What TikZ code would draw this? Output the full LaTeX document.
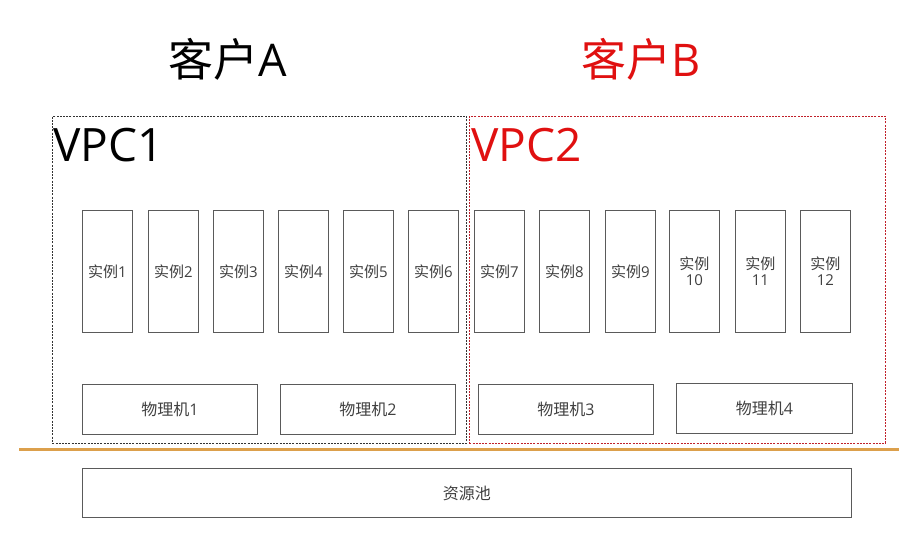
\documentclass[tikz,border=0pt]{standalone}
\usepackage{fontspec}
\setmainfont{Open Sans}
\newfontfamily\cjk{Noto Sans CJK SC}
\definecolor{boxgray}{HTML}{5A5A5A}
\definecolor{txtgray}{HTML}{404040}
\definecolor{vpcred}{HTML}{C0202A}
\definecolor{linorange}{HTML}{DCA04C}
\definecolor{titlered}{HTML}{E01010}
\newcommand{\inst}[1]{{\cjk 实例}#1}
\newcommand{\phys}[1]{{\cjk 物理机}#1}
\tikzset{
  inst/.style={draw=boxgray, line width=0.9pt, fill=white, text=txtgray, font=\fontsize{15}{16}\selectfont, inner sep=0pt, align=center},
  machine/.style={inst, font=\fontsize{16}{18}\selectfont},
  vpcbox/.style={draw, line width=0.8pt, dash pattern=on 2pt off 1.2pt},
  title/.style={font=\fontsize{45}{50}\selectfont, inner sep=0pt},
  vpclabel/.style={font=\fontsize{46}{50}\selectfont, inner sep=0pt, anchor=west}
}
\begin{document}
\begin{tikzpicture}[x=1pt,y=-1pt]
\useasboundingbox (0,0) rectangle (899,535);
% titles
\node[title] (ta) at (228,59) {{\cjk 客户}A};
\node[title, text=titlered] (tb) at (641,59) {{\cjk 客户}B};
% VPC boxes
\node[vpcbox, draw=black!80, minimum width=414pt, minimum height=327pt, anchor=north west, inner sep=0pt] (vpc1) at (52,116) {};
\node[vpcbox, draw=vpcred, minimum width=416pt, minimum height=327pt, anchor=north west, inner sep=0pt] (vpc2) at (469,116) {};
\node[vpclabel] (v1) at (53,145) {VPC1};
\node[vpclabel, text=titlered] (v2) at (471,145) {VPC2};
% instances
\foreach \x/\n/\lab in {82/1/\inst{1},148/2/\inst{2},213/3/\inst{3},278/4/\inst{4},343/5/\inst{5},408/6/\inst{6},474/7/\inst{7},539/8/\inst{8},605/9/\inst{9},669/10/{\inst{}\\10},735/11/{\inst{}\\11},800/12/{\inst{}\\12}}{
  \node[inst, minimum width=50pt, minimum height=122pt, anchor=north west] (i\n) at (\x,210) {\lab};
}
% physical machines
\node[machine, minimum width=175pt, minimum height=50pt, anchor=north west] (p1) at (82,384) {\phys{1}};
\node[machine, minimum width=175pt, minimum height=50pt, anchor=north west] (p2) at (280,384) {\phys{2}};
\node[machine, minimum width=175pt, minimum height=50pt, anchor=north west] (p3) at (478,384) {\phys{3}};
\node[machine, minimum width=176pt, minimum height=50pt, anchor=north west] (p4) at (676,383) {\phys{4}};
% orange separator
\coordinate (l1) at (19,449.5);
\coordinate (l2) at (899,449.5);
\draw[linorange, line width=2.2pt] (l1) -- (l2);
% resource pool
\node[machine, minimum width=769pt, minimum height=49pt, anchor=north west] (pool) at (82,468) {{\cjk 资源池}};
\end{tikzpicture}
\end{document}
